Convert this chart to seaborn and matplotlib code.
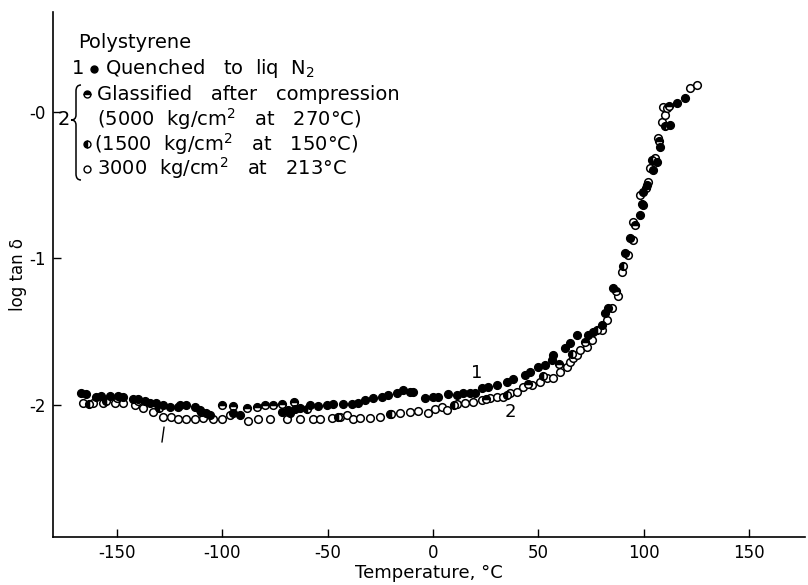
import matplotlib
matplotlib.use("Agg")
import matplotlib.pyplot as plt
import seaborn as sns
import pandas as pd
from matplotlib.lines import Line2D
from matplotlib.path import Path
from matplotlib.patches import PathPatch

# ---------------- data ----------------
quench_T = [-167.0, -164.6, -159.9, -157.5, -153.2, -149.4, -147.1, -142.3, -139.9, -136.6,
            -134.3, -131.4, -128.1, -124.8, -121.0, -117.2, -112.9, -110.5, -107.7, -105.8,
            -94.9, -91.6, -71.6, -68.8, -67.8, -65.5, -63.1, -58.3, -54.6, -50.3,
            -47.4, -42.7, -38.4, -35.6, -32.3, -28.5, -24.2, -21.3, -17.1, -14.2,
            -10.9, -9.5, -3.8, 0.0, 2.4, 7.1, 11.4, 14.2, 17.6, 19.9,
            23.2, 26.1, 30.4, 35.1, 37.9, 43.6, 46.0, 49.8, 53.1, 56.5,
            56.9, 62.6, 65.0, 68.3, 73.5, 75.9, 80.2, 81.6, 83.0, 85.4,
            91.1, 93.5, 98.2, 99.6, 99.6, 101.5, 104.4, 106.3, 107.7, 112.4,
            115.7, 119.5]
quench_logtan = [-1.918, -1.925, -1.945, -1.939, -1.939, -1.939, -1.945, -1.959, -1.959, -1.973,
                 -1.986, -1.986, -2.0, -2.014, -2.014, -2.0, -2.014, -2.034, -2.055, -2.068,
                 -2.055, -2.068, -2.048, -2.034, -2.055, -2.027, -2.02, -2.0, -2.007, -2.0,
                 -1.993, -1.993, -1.993, -1.986, -1.966, -1.952, -1.945, -1.932, -1.918, -1.898,
                 -1.911, -1.911, -1.952, -1.945, -1.945, -1.925, -1.932, -1.918, -1.918, -1.918,
                 -1.884, -1.877, -1.863, -1.843, -1.823, -1.795, -1.775, -1.741, -1.727, -1.693,
                 -1.659, -1.611, -1.577, -1.522, -1.522, -1.502, -1.454, -1.372, -1.338, -1.201,
                 -0.962, -0.860, -0.703, -0.635, -0.546, -0.498, -0.396, -0.341, -0.239, -0.089,
                 0.061, 0.096]

p3000_T = [-166.0, -161.3, -156.5, -150.9, -147.1, -141.4, -137.6, -132.8, -128.1, -124.3,
           -121.0, -117.2, -112.9, -109.1, -104.4, -100.1, -96.3, -87.8, -83.0, -77.3,
           -69.3, -63.1, -56.9, -53.6, -47.9, -44.1, -40.8, -38.0, -34.6, -29.9,
           -25.1, -20.4, -15.7, -10.9, -7.1, -2.4, 0.9, 4.3, 6.6, 11.4,
           15.2, 19.0, 23.2, 27.0, 30.4, 33.2, 36.5, 39.8, 42.7, 47.0,
           50.8, 54.1, 56.9, 60.2, 63.6, 65.0, 66.4, 68.3, 69.7, 73.1,
           75.4, 80.2, 82.5, 84.9, 87.8, 89.7, 92.5, 94.9, 94.9, 98.2,
           102.0, 102.9, 105.4, 106.7, 108.6, 110.1, 109.1, 111.0, 121.9, 125.2]
p3000_logtan = [-1.986, -1.986, -1.986, -1.986, -1.986, -2.0, -2.020, -2.048, -2.082, -2.082,
                -2.096, -2.096, -2.096, -2.089, -2.096, -2.096, -2.068, -2.109, -2.096, -2.096,
                -2.096, -2.096, -2.096, -2.096, -2.089, -2.082, -2.068, -2.096, -2.089, -2.089,
                -2.082, -2.061, -2.055, -2.048, -2.041, -2.055, -2.027, -2.014, -2.034, -1.993,
                -1.986, -1.980, -1.966, -1.952, -1.945, -1.945, -1.918, -1.911, -1.877, -1.863,
                -1.843, -1.816, -1.816, -1.775, -1.741, -1.706, -1.679, -1.659, -1.625, -1.604,
                -1.556, -1.488, -1.420, -1.338, -1.256, -1.092, -0.976, -0.874, -0.751, -0.567,
                -0.478, -0.382, -0.314, -0.177, -0.068, -0.020, 0.034, 0.027, 0.164, 0.184]

p5000_T = [-150, -140, -120, -100.1, -94.9, -88.2, -83.5, -79.7, -75.9, -71.6,
           -66, 25, 45, 60, 72, 87, 96, 101, 107, 112]
p5000_logtan = [-1.95, -1.97, -2.0, -2.0, -2.007, -2.02, -2.014, -2.0, -2.0, -1.993,
                -1.98, -1.96, -1.86, -1.72, -1.57, -1.22, -0.77, -0.52, -0.2, 0.04]

p1500_T = [-163, -155, -130, -110, -60, -45, -20, 10, 35, 52,
           66, 78, 90, 99, 104, 110]
p1500_logtan = [-1.99, -1.97, -2.02, -2.05, -2.03, -2.08, -2.06, -2.0, -1.93, -1.8,
                -1.65, -1.49, -1.05, -0.63, -0.33, -0.1]

x_ticks = [-150, -100, -50, 0, 50, 100, 150]
x_ticklabels = ["-150", "-100", "-50", "0", "50", "100", "150"]
y_ticks = [0, -1, -2]
y_ticklabels = ["-0", "-1", "-2"]

series_names = ["quenched", "5000", "1500", "3000"]

# ---------------- figure ----------------
sns.set_theme(style="ticks")
plt.rcParams['font.family'] = ['DejaVu Sans']
plt.rcParams['text.color'] = 'black'
plt.rcParams['axes.labelcolor'] = 'black'

W, H = 808, 585
fig = plt.figure(figsize=(W / 100, H / 100), dpi=100)
ax = fig.add_axes([53 / W, 1 - 537 / H, (805 - 53) / W, (537 - 12) / H])

frames = [
    pd.DataFrame({"T": quench_T, "logtan": quench_logtan, "series": series_names[0]}),
    pd.DataFrame({"T": p5000_T, "logtan": p5000_logtan, "series": series_names[1]}),
    pd.DataFrame({"T": p1500_T, "logtan": p1500_logtan, "series": series_names[2]}),
    pd.DataFrame({"T": p3000_T, "logtan": p3000_logtan, "series": series_names[3]}),
]
df = pd.concat(frames, ignore_index=True)

styles = {
    "quenched": dict(fillstyle="full", markerfacecolor="black"),
    "5000": dict(fillstyle="top", markerfacecolor="black", markerfacecoloralt="white"),
    "1500": dict(fillstyle="left", markerfacecolor="black", markerfacecoloralt="white"),
    "3000": dict(fillstyle="full", markerfacecolor="white"),
}
order = ["3000", "5000", "1500", "quenched"]
for name in order:
    sub = df[df["series"] == name]
    sns.lineplot(data=sub, x="T", y="logtan", estimator=None, sort=False,
                 linestyle="none", marker="o", markersize=5.5,
                 markeredgewidth=1.1, markeredgecolor="black", color="black",
                 ax=ax, **styles[name])

ax.set_xlim(-180.3, 176.5)
ax.set_ylim(-2.90, 0.68)
ax.set_xticks(x_ticks)
ax.set_xticklabels(x_ticklabels)
ax.set_yticks(y_ticks)
ax.set_yticklabels(y_ticklabels)
ax.tick_params(direction="in", length=6, width=1, labelsize=12, colors="black", pad=5)
sns.despine(ax=ax)
for s in ["left", "bottom"]:
    ax.spines[s].set_linewidth(1.2)
    ax.spines[s].set_color("black")
ax.set_xlabel("Temperature, °C", fontsize=13, color="black")
ax.set_ylabel("log tan δ", fontsize=12, color="black")
ax.xaxis.set_label_coords(0.5, -0.052)
ax.yaxis.set_label_coords(-0.034, 0.5)

# curve labels
ax.text(20.9, -1.78, "1", fontsize=13, ha="center", va="center")
ax.text(36.5, -2.05, "2", fontsize=13, ha="center", va="center")
ax.plot([-127.6, -128.6], [-2.15, -2.253], color="black", lw=1)

# ---------------- legend block ----------------
def F(x, y):
    return (x / W, 1 - y / H)

fs = 14
fig.text(*F(78, 42), "Polystyrene", fontsize=fs, va="center", ha="left")
fig.text(*F(78, 69), "1", fontsize=fs, va="center", ha="center")
fig.text(*F(105, 69), "Quenched   to  liq  N$_2$", fontsize=fs, va="center", ha="left")
fig.text(*F(97, 95), "Glassified   after   compression", fontsize=fs, va="center", ha="left")
fig.text(*F(97, 119), "(5000  kg/cm$^2$   at   270°C)", fontsize=fs, va="center", ha="left")
fig.text(*F(94, 144), "(1500  kg/cm$^2$   at   150°C)", fontsize=fs, va="center", ha="left")
fig.text(*F(97, 168), "3000  kg/cm$^2$   at   213°C", fontsize=fs, va="center", ha="left")
fig.text(*F(64, 120), "2", fontsize=fs, va="center", ha="center")

def legend_marker(x, y, **kw):
    m = Line2D([x / W], [1 - y / H], transform=fig.transFigure, marker="o",
               linestyle="none", markersize=5.0, markeredgewidth=1.0,
               markeredgecolor="black", **kw)
    fig.add_artist(m)

legend_marker(94, 69, fillstyle="full", markerfacecolor="black")
legend_marker(87, 94, fillstyle="top", markerfacecolor="black", markerfacecoloralt="white")
legend_marker(87, 144, fillstyle="left", markerfacecolor="black", markerfacecoloralt="white")
legend_marker(87, 169, fillstyle="full", markerfacecolor="white")

# brace
bx, tip, rx = 76, 71, 81
top, mid, bot = 85, 120, 180
verts = [F(rx, top), F(bx, top), F(bx, top + 6),
         F(bx, mid - 5),
         F(bx, mid), F(tip, mid),
         F(bx, mid), F(bx, mid + 5),
         F(bx, bot - 6),
         F(bx, bot), F(rx, bot)]
codes = [Path.MOVETO, Path.CURVE3, Path.CURVE3,
         Path.LINETO,
         Path.CURVE3, Path.CURVE3,
         Path.CURVE3, Path.CURVE3,
         Path.LINETO,
         Path.CURVE3, Path.CURVE3]
brace = PathPatch(Path(verts, codes), transform=fig.transFigure, fill=False,
                  edgecolor="black", lw=1.1)
fig.add_artist(brace)

fig.savefig("out.png", dpi=100)
